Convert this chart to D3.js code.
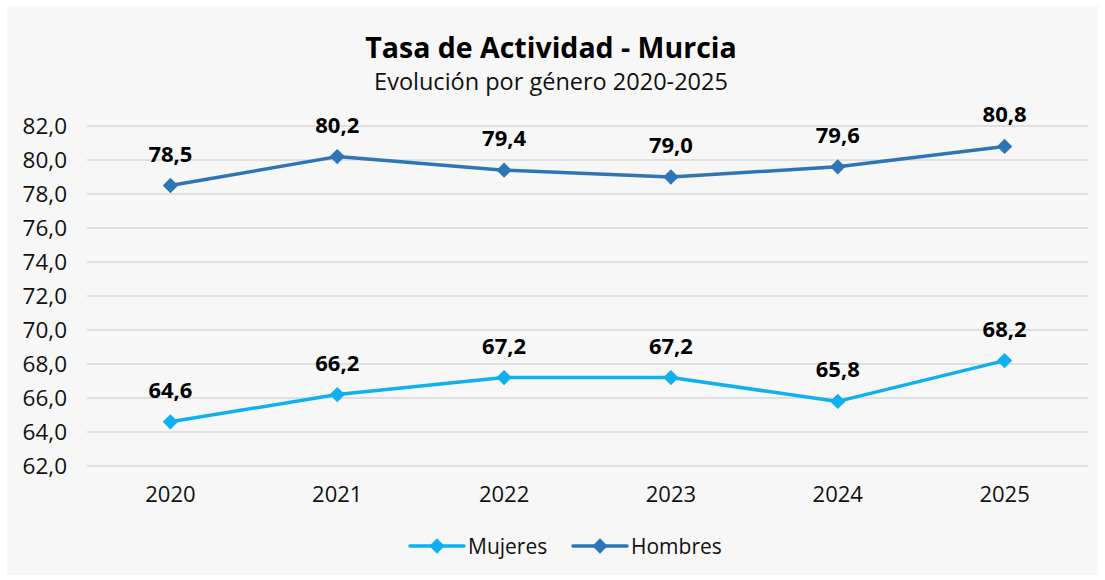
<!DOCTYPE html>
<html>
<head>
<meta charset="utf-8">
<script src="https://cdn.jsdelivr.net/npm/d3@7"></script>
<style>
  body { margin: 0; background: #fff; }
  svg { display: block; font-family: "Open Sans", "Noto Sans", sans-serif; }
</style>
</head>
<body>
<div id="chart"></div>
<script>
// data
const years = ['2020', '2021', '2022', '2023', '2024', '2025']
const mujeres = [64.6, 66.2, 67.2, 67.2, 65.8, 68.2]
const hombres = [78.5, 80.2, 79.4, 79.0, 79.6, 80.8]
const yTicks = [62, 64, 66, 68, 70, 72, 74, 76, 78, 80, 82]

const title = 'Tasa de Actividad - Murcia'
const subtitle = 'Evolución por género 2020-2025'

const series = [
  { name: 'Mujeres', values: mujeres, color: '#0fb0ef' },
  { name: 'Hombres', values: hombres, color: '#2e75b6' }
]

const w = 1105
const h = 580
const margin = { top: 126, right: 17, bottom: 114, left: 87 }

const svg = d3.select('#chart')
  .append('svg')
  .attr('width', w)
  .attr('height', h)

// panel background
svg.append('rect')
  .attr('x', 7).attr('y', 6)
  .attr('width', 1091).attr('height', 569)
  .attr('fill', '#f7f7f7')

const x = d3.scaleBand()
  .domain(years)
  .range([margin.left, w - margin.right])

const y = d3.scaleLinear()
  .domain([62, 82])
  .range([h - margin.bottom, margin.top])

const fmt = v => d3.format('.1f')(v).replace('.', ',')

// gridlines
svg.append('g')
  .selectAll('line')
  .data(yTicks)
  .enter()
  .append('line')
  .attr('x1', margin.left)
  .attr('x2', w - margin.right)
  .attr('y1', d => y(d))
  .attr('y2', d => y(d))
  .style('stroke', '#d9d9d9')
  .style('stroke-width', 1.5)

// y axis labels
const yAxis = svg.append('g')
  .attr('transform', `translate(${margin.left},0)`)
  .call(d3.axisLeft(y).tickValues(yTicks).tickFormat(fmt).tickSize(0).tickPadding(20))
yAxis.select('.domain').remove()
yAxis.selectAll('text')
  .style('font-size', '22.5px')
  .style('fill', '#111')
  .style('font-family', '"Open Sans", sans-serif')

// x axis labels
const xAxis = svg.append('g')
  .attr('transform', `translate(0,${h - margin.bottom})`)
  .call(d3.axisBottom(x).tickSize(0).tickPadding(20))
xAxis.select('.domain').remove()
xAxis.selectAll('text')
  .style('font-size', '22px')
  .style('fill', '#111')
  .style('font-family', '"Open Sans", sans-serif')

const cx = d => x(d) + x.bandwidth() / 2
const line = d3.line()
  .x((d, i) => cx(years[i]))
  .y(d => y(d))

const diamond = d3.symbol().type(d3.symbolDiamond2).size(150)

series.forEach(s => {
  const g = svg.append('g')
  g.append('path')
    .datum(s.values)
    .attr('d', line)
    .style('fill', 'none')
    .style('stroke', s.color)
    .style('stroke-width', 3.5)
    .style('stroke-linejoin', 'round')

  g.selectAll('path.pt')
    .data(s.values)
    .enter()
    .append('path')
    .attr('class', 'pt')
    .attr('d', diamond)
    .attr('transform', (d, i) => `translate(${cx(years[i])},${y(d)})`)
    .style('fill', s.color)

  g.selectAll('text')
    .data(s.values)
    .enter()
    .append('text')
    .attr('x', (d, i) => cx(years[i]))
    .attr('y', d => y(d) - 24)
    .attr('text-anchor', 'middle')
    .style('font-size', '22px')
    .style('font-weight', 'bold')
    .style('fill', '#000')
    .text(d => fmt(d))
})

// titles
svg.append('text')
  .attr('x', 551).attr('y', 58)
  .attr('text-anchor', 'middle')
  .style('font-size', '28.5px')
  .style('font-weight', 'bold')
  .style('fill', '#000')
  .text(title)

svg.append('text')
  .attr('x', 551).attr('y', 90)
  .attr('text-anchor', 'middle')
  .style('font-size', '23.5px')
  .style('fill', '#111')
  .text(subtitle)

// legend
const legend = svg.append('g')
  .selectAll('g')
  .data(series)
  .enter()
  .append('g')
  .attr('transform', (d, i) => `translate(${[410, 573][i]},546)`)

legend.append('line')
  .attr('x1', 0).attr('x2', 54)
  .style('stroke', d => d.color)
  .style('stroke-width', 3.5)
  .style('stroke-linecap', 'round')

legend.append('path')
  .attr('d', diamond)
  .attr('transform', 'translate(27,0)')
  .style('fill', d => d.color)

legend.append('text')
  .attr('x', 58)
  .attr('y', 8)
  .style('font-size', '21px')
  .style('fill', '#111')
  .text(d => d.name)
</script>
</body>
</html>
